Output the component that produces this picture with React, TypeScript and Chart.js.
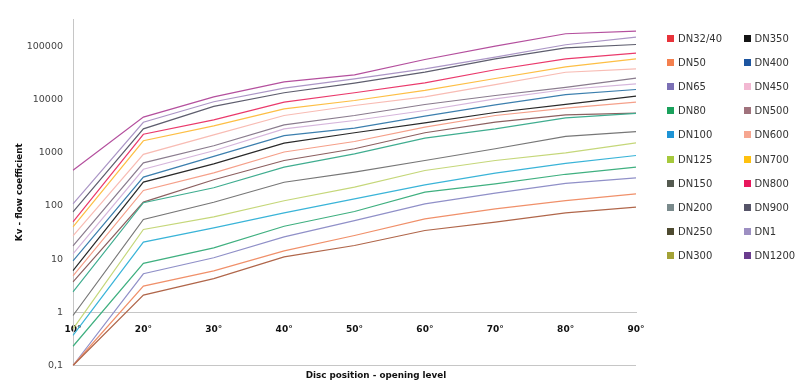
import React, { useEffect, useRef } from 'react';
import { Chart, registerables } from 'chart.js';

Chart.register(...registerables);

// ---- Data ----
const openingAngles = ['10°', '20°', '30°', '40°', '50°', '60°', '70°', '80°', '90°'];

const seriesNames = [
  'DN32/40', 'DN50', 'DN65', 'DN80', 'DN100', 'DN125', 'DN150', 'DN200', 'DN250', 'DN300',
  'DN350', 'DN400', 'DN450', 'DN500', 'DN600', 'DN700', 'DN800', 'DN900', 'DN1', 'DN1200',
];

const dn32_40 = [0.1, 2.1, 4.3, 11, 18, 34.5, 49.6, 74, 95];
const dn50 = [0.1, 3.1, 6.0, 14.3, 27.8, 57, 88, 126, 169];
const dn65 = [0.1, 5.3, 10.6, 26.2, 53, 109, 174, 266, 337];
const dn80 = [0.23, 8.3, 16.3, 41.4, 78.5, 182, 260, 393, 536];
const dn100 = [0.37, 20.9, 38.7, 74, 136, 249, 414, 632, 886];
const dn125 = [0.49, 36, 62.4, 125, 225, 463, 713, 996, 1535];
const dn150 = [0.87, 55.5, 117, 278, 432, 713, 1185, 2020, 2500];
const dn200 = [2.43, 115, 219, 536, 953, 1880, 2810, 4530, 5500];
const dn250 = [3.74, 118, 310, 713, 1185, 2370, 3760, 5160, 5550];
const dn300 = [4.85, 195, 419, 1030, 1625, 3030, 5000, 6890, 8930];
const dn350 = [6.1, 280, 618, 1515, 2370, 3650, 5700, 8130, 11600];
const dn400 = [9.3, 348, 855, 2100, 2900, 4870, 7950, 12300, 15400];
const dn450 = [12.6, 488, 1090, 2810, 4030, 6210, 10300, 15400, 19700];
const dn500 = [17.8, 646, 1350, 3340, 5000, 8050, 11900, 16900, 25200];
const dn600 = [27.4, 933, 2170, 5000, 7710, 11200, 19100, 32500, 37700];
const dn700 = [40.5, 1675, 3200, 6680, 9580, 14800, 24800, 41200, 58200];
const dn800 = [50.2, 2220, 4150, 8940, 13400, 20600, 36200, 58200, 74500];
const dn900 = [77.5, 2810, 7450, 13400, 20300, 32700, 58200, 93700, 108000];
const dn1 = [109, 3730, 9060, 16400, 24500, 37700, 62700, 107000, 149000];
const dn1200 = [467, 4670, 11200, 21500, 29100, 56500, 101000, 172000, 193000];

const seriesValues = [
  dn32_40, dn50, dn65, dn80, dn100, dn125, dn150, dn200, dn250, dn300,
  dn350, dn400, dn450, dn500, dn600, dn700, dn800, dn900, dn1, dn1200,
];

const yTickValues = [0.1, 1, 10, 100, 1000, 10000, 100000];
const yTickLabels = ['0,1', '1', '10', '100', '1000', '10000', '100000'];

// ---- Styles ----
const lineColors = [
  '#b0664a', '#f0906a', '#9090c8', '#40b080', '#3ab4d8', '#c5d77a', '#777777', '#40ad90', '#8c6060', '#f5a08a',
  '#2a2a2a', '#3c7fae', '#d6b6dc', '#8a7c8e', '#f8bcb4', '#fdbf45', '#ea3a6c', '#5e5e6e', '#ab96c6', '#b4509e',
];
const swatchColors = [
  '#e8333a', '#f4804e', '#7b70b5', '#1aa15c', '#1e94d6', '#a6c93c', '#545a50', '#7a8a8c', '#4e4a30', '#a3a236',
  '#141414', '#1d55a0', '#f2b8d2', '#a0727c', '#f6a690', '#ffc10f', '#e8175c', '#565468', '#9d8fc2', '#6a3c8e',
];

const FONT = 'DejaVu Sans';

export default function App() {
  const ref = useRef<HTMLCanvasElement>(null);

  useEffect(() => {
    document.body.style.margin = '0';
    const canvas = ref.current;
    if (!canvas) return;
    const chart = new Chart(canvas, {
      type: 'line',
      data: {
        labels: openingAngles,
        datasets: seriesNames.map((name, i) => ({
          label: name,
          data: seriesValues[i],
          borderColor: lineColors[i],
          backgroundColor: lineColors[i],
          borderWidth: 1.2,
          pointRadius: 0,
          pointHoverRadius: 0,
          tension: 0,
          fill: false,
        })),
      },
      options: {
        animation: false,
        responsive: false,
        maintainAspectRatio: false,
        events: [],
        layout: { padding: { top: 19, right: 164, bottom: 22.5, left: 0 } },
        plugins: {
          legend: { display: false },
          tooltip: { enabled: false },
        },
        scales: {
          x: {
            type: 'category',
            position: { y: 1 } as any,
            offset: false,
            grid: { display: false, drawTicks: false },
            border: { display: true, color: '#c6c6c6', width: 1 },
            ticks: {
              font: { family: FONT, size: 9, weight: 'bold' },
              color: '#111',
              padding: 12,
              maxRotation: 0,
              autoSkip: false,
            },
            afterFit: (s: any) => {
              s.height = 0;
            },
          },
          y: {
            type: 'logarithmic',
            position: 'left',
            min: 0.1,
            max: 326000,
            afterBuildTicks: (s: any) => {
              s.ticks = yTickValues.map((v) => ({ value: v }));
            },
            afterFit: (s: any) => {
              s.width = 73;
            },
            grid: {
              drawTicks: false,
              color: (c: any) => (c.tick && c.tick.value === 0.1 ? '#c6c6c6' : 'rgba(0,0,0,0)'),
            },
            border: { display: true, color: '#c6c6c6', width: 1 },
            ticks: {
              callback: (v: any) => {
                const idx = yTickValues.indexOf(Number(v));
                return idx >= 0 ? yTickLabels[idx] : '';
              },
              font: { family: FONT, size: 9.5 },
              color: '#444',
              padding: 10,
            },
            title: {
              display: true,
              text: 'Kv - flow coefficient',
              font: { family: FONT, size: 8.8, weight: 'bold' },
              color: '#111',
              padding: { top: 14.7, bottom: 0 },
            },
          },
        },
      } as any,
    });
    return () => chart.destroy();
  }, []);

  return (
    <div style={{ position: 'relative', width: 800, height: 388, background: '#fff', overflow: 'hidden' }}>
      <canvas ref={ref} width={800} height={388} style={{ display: 'block', width: 800, height: 388 }} />
      <div
        style={{
          position: 'absolute',
          left: 276,
          width: 200,
          top: 370,
          textAlign: 'center',
          fontFamily: FONT,
          fontWeight: 'bold',
          fontSize: 8.8,
          lineHeight: '11px',
          color: '#111',
          whiteSpace: 'nowrap',
        }}
      >
        Disc position - opening level
      </div>
      {seriesNames.map((name, i) => {
        const col = i < 10 ? 0 : 1;
        const row = i % 10;
        const cy = 38.5 + 24.1 * row;
        const sx = col === 0 ? 667 : 743.5;
        const tx = col === 0 ? 678 : 754.5;
        return (
          <React.Fragment key={name}>
            <div
              style={{
                position: 'absolute',
                left: sx,
                top: cy - 3.5,
                width: 7,
                height: 7,
                background: swatchColors[i],
              }}
            />
            <div
              style={{
                position: 'absolute',
                left: tx,
                top: cy - 6.5,
                fontFamily: FONT,
                fontSize: 10,
                lineHeight: '13px',
                color: '#333',
                whiteSpace: 'nowrap',
              }}
            >
              {name}
            </div>
          </React.Fragment>
        );
      })}
    </div>
  );
}
